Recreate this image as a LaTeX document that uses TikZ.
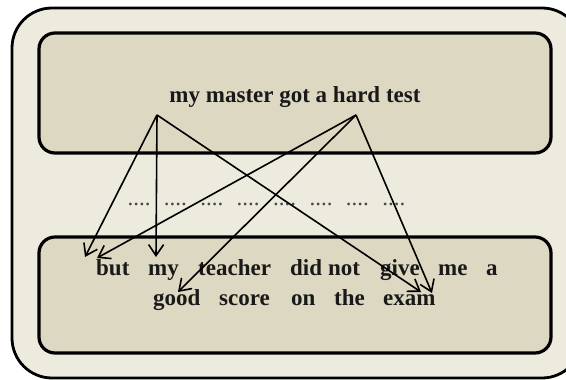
\documentclass[tikz,border=0pt]{standalone}
\usepackage{fontspec}
\setmainfont{Liberation Serif}
\usetikzlibrary{arrows.meta}
\definecolor{paperfill}{RGB}{237,234,222}
\definecolor{panelfill}{RGB}{221,216,194}
\definecolor{ink}{RGB}{25,25,25}
\tikzset{
  panel/.style={draw=black,line width=3.2pt,fill=panelfill,rounded corners=16pt},
  word/.style={anchor=base west,inner sep=0pt,text=ink,font=\fontsize{23}{28}\selectfont\bfseries},
  gapdots/.style={anchor=base,inner sep=0pt,text=ink!80,font=\fontsize{23}{28}\selectfont},
  link/.style={line width=1.6pt,-{Straight Barb[length=11pt,width=15pt]}},
}

\begin{document}
\begin{tikzpicture}[x=1pt,y=-1pt]
\clip (0,0) rectangle (566,380);
\draw[line width=2.8pt,fill=paperfill,rounded corners=40pt] (12,8) rectangle (582,378);
\draw[panel] (39,33) rectangle (551,153);
\draw[panel] (39,237) rectangle (551,353);

\node[word,anchor=base] (title) at (295,102) {my master got a hard test};
 \foreach \i in {0,...,7}
    \node[gapdots] (gap\i) at (139+36.4*\i,205) {....};

% first line
\node[word] (but) at (96,275) {but};
\node[word] (my) at (148,275) {my};
\node[word] (teacher) at (198,275) {teacher};
\node[word] (did) at (290,275) {did};
\node[word] (not) at (328,275) {not};
\node[word] (give) at (380,275) {give};
\node[word] (me) at (438,275) {me};
\node[word] (a) at (486,275) {a};
% second line
\node[word] (good) at (153,305) {good};
\node[word] (score) at (219,305) {score};
\node[word] (on) at (291,305) {on};
\node[word] (the) at (334,305) {the};
\node[word] (exam) at (383,305) {exam};

\coordinate (my-from) at (157,115);
\coordinate (hard-from) at (356,115);
\coordinate (but-in1) at (85,257);
\coordinate (but-in2) at (97,258);
\coordinate (my-in) at (156,257);
\coordinate (good-in) at (178,292);
\coordinate (exam-in1) at (421,292);
\coordinate (exam-in2) at (432,293);

\draw[link] (my-from) -- (but-in1);
\draw[link] (my-from) -- (my-in);
\draw[link] (my-from) -- (exam-in1);
\draw[link] (hard-from) -- (but-in2);
\draw[link] (hard-from) -- (good-in);
\draw[link] (hard-from) -- (exam-in2);
\end{tikzpicture}
\end{document}
